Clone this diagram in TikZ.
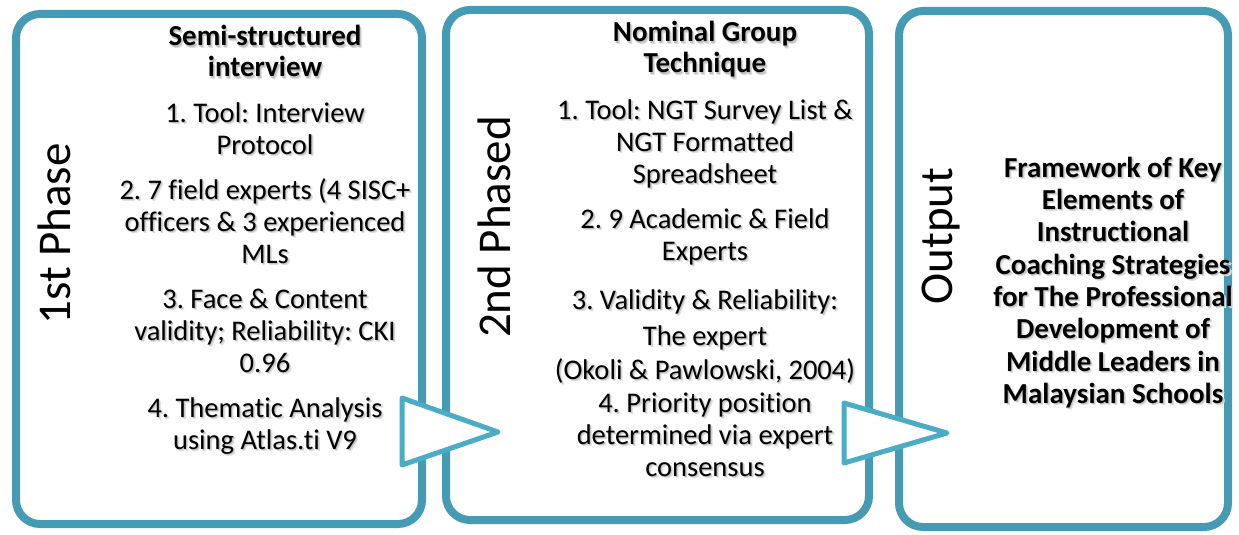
\documentclass[tikz,border=0pt]{standalone}
\usepackage{fontspec}
\setmainfont{Carlito}[Ligatures={NoCommon}]
\frenchspacing
\definecolor{frame}{RGB}{70,155,180}
\definecolor{flow}{RGB}{75,172,198}
% text with a soft drop shadow below right
\newcommand\shd[1]{\leavevmode\rlap{\kern2.2pt\raisebox{-2.2pt}{\color{black!12}#1}}\rlap{\kern1.1pt\raisebox{-1.1pt}{\color{black!24}#1}}#1}
\tikzset{
  stage/.style={draw=frame, line width=8pt, rounded corners=24pt, fill=white},
  pointer/.style={draw=flow, line width=5pt, line join=round, fill=white},
  body/.style={anchor=base, inner sep=0pt, font=\fontsize{28.5}{32}\selectfont},
  head/.style={anchor=base, inner sep=0pt, font=\bfseries\fontsize{29}{32}\selectfont},
  result/.style={anchor=base, inner sep=0pt, font=\bfseries\fontsize{29}{32}\selectfont},
  phase/.style={anchor=base, inner sep=0pt, rotate=90, font=\fontsize{47}{50}\selectfont},
}
\begin{document}
\begin{tikzpicture}[x=1pt, y=-1pt]
\useasboundingbox (0,0) rectangle (1239,535);

% stage frames and the arrows between them
\draw[stage] (16,14) rectangle (422,524);
\draw[stage] (446,10) rectangle (869,520);
\draw[pointer] (402,398) -- (498,432) -- (402,465) -- cycle;
\draw[stage] (899,11) rectangle (1228,527);
\draw[pointer] (844,403) -- (947,433) -- (844,463) -- cycle;

% side labels
\node[phase] (p1) at (70,234) {1st Phase};
\node[phase] (p2) at (510,227) {2nd Phased};
\node[phase] (p3) at (952,236) {Output};

% first phase
\node[head] (a0) at (265,46) {\shd{Semi-structured}};
\node[head] (a0b) at (265,77) {\shd{interview}};
\node[body] (a1) at (265,122) {\shd{1. Tool: Interview}};
\node[body] (a1b) at (265,154) {\shd{Protocol}};
\node[body] (a2) at (265,199) {\shd{2. 7 field experts (4 SISC+}};
\node[body] (a2b) at (265,231) {\shd{officers \& 3 experienced}};
\node[body] (a2c) at (265,263) {\shd{MLs}};
\node[body] (a3) at (265,308) {\shd{3. Face \& Content}};
\node[body] (a3b) at (265,340) {\shd{validity; Reliability: CKI}};
\node[body] (a3c) at (265,372) {\shd{0.96}};
\node[body] (a4) at (265,417) {\shd{4. Thematic Analysis}};
\node[body] (a4b) at (265,449) {\shd{using Atlas.ti V9}};

% second phase
\node[head] (b0) at (705,42) {\shd{Nominal Group}};
\node[head] (b0b) at (705,73) {\shd{Technique}};
\node[body] (b1) at (705,119) {\shd{1. Tool: NGT Survey List \&}};
\node[body] (b1b) at (705,151) {\shd{NGT Formatted}};
\node[body] (b1c) at (705,183) {\shd{Spreadsheet}};
\node[body] (b2) at (705,228) {\shd{2. 9 Academic \& Field}};
\node[body] (b2b) at (705,260) {\shd{Experts}};
\node[body] (b3) at (705,309) {\shd{3. Validity \& Reliability:}};
\node[body] (b3b) at (705,345) {\shd{The expert}};
\node[body] (b3c) at (705,379) {\shd{(Okoli \& Pawlowski, 2004)}};
\node[body] (b4) at (705,412) {\shd{4. Priority position}};
\node[body] (b4b) at (705,444) {\shd{determined via expert}};
\node[body] (b4c) at (705,476) {\shd{consensus}};

% output
\node[result] (c1) at (1113,177) {\shd{Framework of Key}};
\node[result] (c2) at (1113,209) {\shd{Elements of}};
\node[result] (c3) at (1113,241) {\shd{Instructional}};
\node[result] (c4) at (1113,274) {\shd{Coaching Strategies}};
\node[result] (c5) at (1113,306) {\shd{for The Professional}};
\node[result] (c6) at (1113,338) {\shd{Development of}};
\node[result] (c7) at (1113,371) {\shd{Middle Leaders in}};
\node[result] (c8) at (1113,403) {\shd{Malaysian Schools}};
\end{tikzpicture}
\end{document}
